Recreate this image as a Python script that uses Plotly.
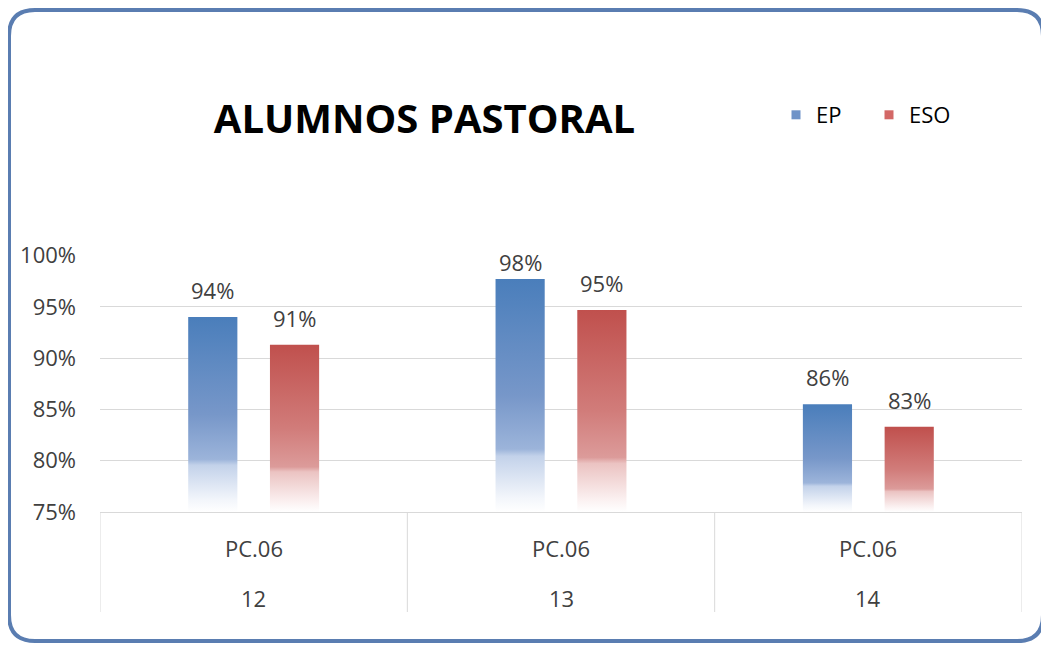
import plotly.graph_objects as go

# ---- data ----
title_text = "ALUMNOS PASTORAL"
series_names = ["EP", "ESO"]
inner_labels = ["PC.06", "PC.06", "PC.06"]
outer_labels = ["12", "13", "14"]
ep_values = [0.940, 0.977, 0.855]
eso_values = [0.913, 0.947, 0.833]
y_ticks = [0.75, 0.80, 0.85, 0.90, 0.95, 1.00]

# ---- style ----
W, H = 1049, 645
OFF = 8  # default page body margin; page coords -> figure coords
PL, PR, PT, PB = 100, 1022, 255, 512  # plot area in page pixels
L, T = PL - OFF, PT - OFF
R, B = W - (PR - OFF), H - (PB - OFF)
PW, PH = PR - PL, PB - PT
FONT = "Open Sans"
TXT = "#404040"
GRID = "#D9D9D9"
offsets = [-0.133, 0.133]
bar_w = 0.16
base = y_ticks[0]
y_top = y_ticks[-1]
LABEL_GAP = 27       # px from bar top to label centre
LABEL_MIN_Y = PT + 7  # labels are kept inside the plot area

scales = [
    [[0, "#FFFFFF"], [0.06, "#F3F6FB"], [0.24, "#C3D2EA"], [0.27, "#9CB4DA"],
     [0.5, "#7797C9"], [1, "#4A7EBB"]],
    [[0, "#FFFFFF"], [0.06, "#FBF1F1"], [0.24, "#EBC3C2"], [0.27, "#DC9B9A"],
     [0.5, "#D17C7A"], [1, "#C0504D"]],
]
legend_colors = ["#6F93C8", "#D36866"]


def px(x):
    return (x - PL) / PW


def py(y):
    return (PB - y) / PH


fig = go.Figure()
annotations = []

for s, (name, vals) in enumerate(zip(series_names, [ep_values, eso_values])):
    for i, v in enumerate(vals):
        xc = i + offsets[s]
        x0, x1 = xc - bar_w / 2, xc + bar_w / 2
        fig.add_trace(go.Scatter(
            x=[x0, x1, x1, x0, x0], y=[base, base, v, v, base],
            mode="lines", fill="toself", line=dict(width=0),
            fillgradient=dict(type="vertical", colorscale=scales[s],
                              start=base, stop=v),
            name=name, legendgroup=name, showlegend=False,
            hoveron="fills", hoverinfo="text",
            text=f"{name} {outer_labels[i]}: {v:.0%}",
        ))
        bar_top_px = PB - (v - base) / (y_top - base) * PH
        shift = min(LABEL_GAP, bar_top_px - LABEL_MIN_Y)
        annotations.append(dict(
            x=xc, y=v, xref="x", yref="y", text=f"{v:.0%}", showarrow=False,
            yanchor="middle", yshift=shift,
            font=dict(family=FONT, size=22, color=TXT)))
    # legend entry
    fig.add_trace(go.Scatter(
        x=[None], y=[None], mode="markers", name=name, legendgroup=name,
        marker=dict(symbol="square", size=9, color=legend_colors[s]),
    ))

shapes = []
# category separators
for k in range(len(outer_labels) + 1):
    shapes.append(dict(type="line", xref="x", yref="paper",
                       x0=k - 0.5, x1=k - 0.5, y0=0, y1=py(612),
                       line=dict(color=GRID, width=1)))

# rounded border (page pixels)
x0b, x1b, y0b, y1b, r = 9, 1043, 10, 641, 26
path = (f"M {px(x0b + r)},{py(y0b)} L {px(x1b - r)},{py(y0b)} "
        f"Q {px(x1b)},{py(y0b)} {px(x1b)},{py(y0b + r)} "
        f"L {px(x1b)},{py(y1b - r)} Q {px(x1b)},{py(y1b)} {px(x1b - r)},{py(y1b)} "
        f"L {px(x0b + r)},{py(y1b)} Q {px(x0b)},{py(y1b)} {px(x0b)},{py(y1b - r)} "
        f"L {px(x0b)},{py(y0b + r)} Q {px(x0b)},{py(y0b)} {px(x0b + r)},{py(y0b)} Z")
shapes.append(dict(type="path", xref="paper", yref="paper", path=path,
                   line=dict(color="#5A7DB1", width=4)))

for i, (a, b) in enumerate(zip(inner_labels, outer_labels)):
    annotations.append(dict(x=i, y=py(548), xref="x", yref="paper", text=a,
                            showarrow=False, yanchor="middle",
                            font=dict(family=FONT, size=22, color=TXT)))
    annotations.append(dict(x=i, y=py(598), xref="x", yref="paper", text=b,
                            showarrow=False, yanchor="middle",
                            font=dict(family=FONT, size=22, color=TXT)))

fig.update_layout(
    width=W, height=H,
    margin=dict(l=L, r=R, t=T, b=B, autoexpand=False),
    paper_bgcolor="white", plot_bgcolor="white",
    title=dict(text=f"<b>{title_text}</b>", x=(424.5 - OFF) / W, xref="container",
               xanchor="center", y=1 - (119 - OFF) / H, yref="container",
               yanchor="middle",
               font=dict(family=FONT, size=40, color="black")),
    showlegend=True,
    legend=dict(orientation="h", x=px(776), y=py(115), xanchor="left",
                yanchor="middle", entrywidth=48, entrywidthmode="pixels",
                font=dict(family=FONT, size=22, color="black"),
                bgcolor="rgba(0,0,0,0)"),
    xaxis=dict(range=[-0.5, 2.5], showticklabels=False, showgrid=False,
               zeroline=False, showline=True, linecolor=GRID, linewidth=1,
               fixedrange=True),
    yaxis=dict(range=[0.75, 1.0005], tickvals=y_ticks, tickformat=".0%",
               showgrid=True, gridcolor=GRID, gridwidth=1, zeroline=False,
               showline=False, ticks="", ticklabelstandoff=23,
               tickfont=dict(family=FONT, size=22, color=TXT)),
    shapes=shapes,
    annotations=annotations,
)

fig.write_html("out.html")
